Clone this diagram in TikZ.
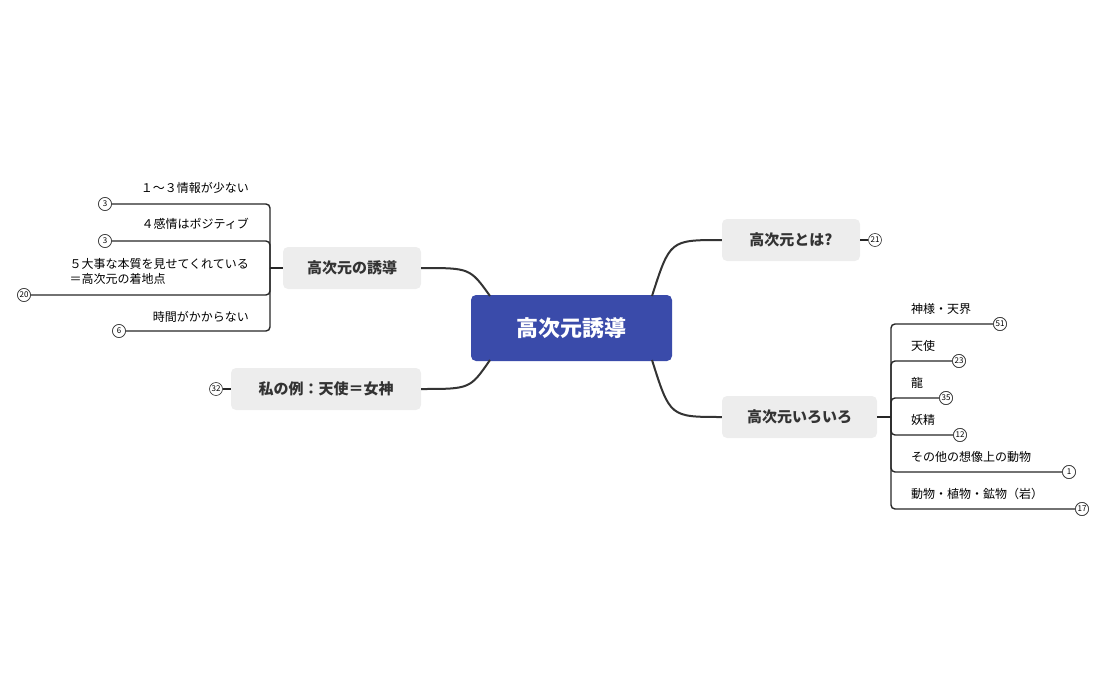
\documentclass[tikz,border=0pt]{standalone}
\usepackage{fontspec}
\setmainfont{Noto Sans CJK JP}
\begin{document}
\begin{tikzpicture}[x=1pt,y=-1pt,
  topic/.style={fill=black!7,rounded corners=5pt,minimum height=42pt,font=\fontsize{15}{18}\selectfont\bfseries,text=black!80,inner xsep=0pt},
  sub/.style={font=\fontsize{12}{15}\selectfont,text=black,inner sep=0pt},
  bub/.style={circle,draw=black!80,line width=0.6pt,fill=white,minimum size=13pt,inner sep=0pt,font=\fontsize{8}{8}\selectfont},
  conn/.style={draw=black!80,line width=2pt},
  br/.style={draw=black!85,line width=1.4pt,rounded corners=4pt}]
\useasboundingbox (0,0) rectangle (1106,685);
\node[fill={rgb,255:red,58;green,75;blue,170},rounded corners=5pt,minimum width=201pt,minimum height=66pt,text=white,font=\fontsize{22}{26}\selectfont\bfseries] (c) at (571.5,328) {高次元誘導};
\node[topic,minimum width=138pt] (a) at (352,268) {高次元の誘導};
\node[topic,minimum width=190pt] (b) at (326,389) {私の例：天使＝女神};
\node[topic,minimum width=138pt] (d) at (791,240) {高次元とは?};
\node[topic,minimum width=155pt] (e) at (799.5,417) {高次元いろいろ};
\coordinate (c1) at (490,296);
\coordinate (c2) at (490,360);
\coordinate (c3) at (652,296);
\coordinate (c4) at (652,360);
\draw[conn] (c1) .. controls (470,268) .. (a.east);
\draw[conn] (c2) .. controls (470,389) .. (b.east);
\draw[conn] (c3) .. controls (670,240) .. (d.west);
\draw[conn] (c4) .. controls (670,417) .. (e.west);
% left subtree
\coordinate (la) at (270,268);
\draw[br] (a.west) -- (la);
\node[bub] (l1) at (105,204) {3};
\node[bub] (l2) at (105,241) {3};
\node[bub] (l3) at (24,295) {20};
\node[bub] (l4) at (119,331) {6};
\draw[br] (la) |- (l1); \draw[br] (la) |- (l2); \draw[br] (la) |- (l3); \draw[br] (la) |- (l4);
\node[sub,anchor=east] (t1) at (249,188) {１～３情報が少ない};
\node[sub,anchor=east] (t2) at (249,224) {４感情はポジティブ};
\node[sub,anchor=east,align=left] (t3) at (249,271) {５大事な本質を見せてくれている\\＝高次元の着地点};
\node[sub,anchor=east] (t4) at (249,317) {時間がかからない};
\node[bub] (bb) at (216,389) {32};
\draw[br] (bb) -- (b.west);
\node[bub] (db) at (875,240) {21};
\draw[br] (d.east) -- (db);
% right subtree
\coordinate (ra) at (891,417);
\draw[br] (e.east) -- (ra);
\node[bub] (r1) at (1000,324) {51};
\node[bub] (r2) at (959,361) {23};
\node[bub] (r3) at (946,398) {35};
\node[bub] (r4) at (960,435) {12};
\node[bub] (r5) at (1069,472) {1};
\node[bub] (r6) at (1082,509) {17};
\foreach \n in {r1,r2,r3,r4,r5,r6} \draw[br] (ra) |- (\n);
\foreach \n in {r1,r2,r3,r4,r5,r6} \node[bub] at (\n) {};
\node[bub] at (r1) {51};\node[bub] at (r2) {23};\node[bub] at (r3) {35};
\node[bub] at (r4) {12};\node[bub] at (r5) {1};\node[bub] at (r6) {17};
\node[bub] at (l1) {3};\node[bub] at (l2) {3};\node[bub] at (l3) {20};\node[bub] at (l4) {6};
\node[sub,anchor=west] (s1) at (911,309) {神様・天界};
\node[sub,anchor=west] (s2) at (911,346) {天使};
\node[sub,anchor=west] (s3) at (911,383) {龍};
\node[sub,anchor=west] (s4) at (911,420) {妖精};
\node[sub,anchor=west] (s5) at (911,457) {その他の想像上の動物};
\node[sub,anchor=west] (s6) at (911,494) {動物・植物・鉱物（岩）};
\end{tikzpicture}
\end{document}
